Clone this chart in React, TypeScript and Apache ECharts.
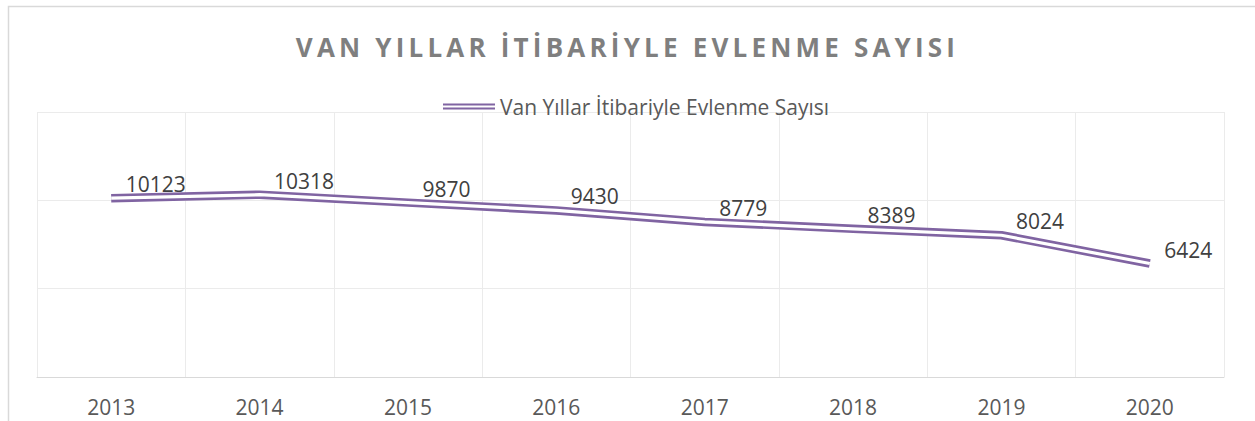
import React, { useEffect, useRef } from "react";
import * as echarts from "echarts";

const TITLE = "VAN YILLAR İTİBARİYLE EVLENME SAYISI";
const SERIES_NAME = "Van Yıllar İtibariyle Evlenme Sayısı";
const years = ["2013", "2014", "2015", "2016", "2017", "2018", "2019", "2020"];
const marriages = [10123, 10318, 9870, 9430, 8779, 8389, 8024, 6424];

const PURPLE = "#8064A2";
const FONT = "'Open Sans', sans-serif";

export default function App() {
  const ref = useRef<HTMLDivElement>(null);
  useEffect(() => {
    if (!ref.current) return;
    const chart = echarts.init(ref.current, undefined, { renderer: "svg" });
    chart.setOption({
      animation: false,
      backgroundColor: "#ffffff",
      title: {
        text: TITLE,
        left: "center",
        top: 29,
        textStyle: {
          fontFamily: FONT,
          fontSize: 26,
          fontWeight: "bold",
          color: "#7f7f7f",
        },
      },
      legend: {
        data: [
          {
            name: SERIES_NAME,
            icon: "path://M0,0H50V2H0Z M0,4H50V6H0Z",
          },
        ],
        top: 91,
        left: 438,
        itemWidth: 52,
        itemHeight: 7,
        textStyle: { fontFamily: FONT, fontSize: 21, color: "#595959" },
        itemStyle: { color: PURPLE },
      },
      graphic: [
        {
          type: "rect",
          shape: { x: 8.5, y: 6.5, width: 1400, height: 600 },
          style: { fill: "none", stroke: "#d9d9d9", lineWidth: 1.5 },
          silent: true,
        },
      ],
      grid: { left: 37, right: 31, top: 112, bottom: 44 },
      xAxis: {
        type: "category",
        data: years,
        boundaryGap: true,
        axisLine: { show: true, lineStyle: { color: "#d9d9d9", width: 1 } },
        axisTick: { show: false },
        splitLine: { show: true, lineStyle: { color: "#ebebeb", width: 1 } },
        axisLabel: { fontFamily: FONT, fontSize: 21, color: "#595959", margin: 19 },
      },
      yAxis: {
        type: "value",
        min: 0,
        max: 15000,
        interval: 5000,
        axisLine: { show: false },
        axisTick: { show: false },
        axisLabel: { show: false },
        splitLine: { show: true, lineStyle: { color: "#ebebeb", width: 1 } },
      },
      series: [
        {
          name: SERIES_NAME,
          type: "line",
          data: marriages,
          symbol: "none",
          lineStyle: { color: PURPLE, width: 8.5, cap: "butt", join: "round" },
          itemStyle: { color: PURPLE },
          z: 2,
        },
        {
          name: "inner",
          type: "line",
          data: marriages,
          symbol: "circle",
          symbolSize: 1,
          showSymbol: true,
          lineStyle: { color: "#ffffff", width: 3.2, cap: "butt", join: "round" },
          itemStyle: { color: "rgba(255,255,255,0)" },
          z: 3,
          label: {
            show: true,
            position: "right",
            distance: 14,
            offset: [0, -14],
            fontFamily: FONT,
            fontSize: 21,
            color: "#404040",
          },
        },
      ],
    });
    const spaceTitle = () => {
      const dom = ref.current;
      if (!dom) return;
      dom.querySelectorAll("text").forEach((t) => {
        if (t.textContent === TITLE) {
          t.setAttribute("letter-spacing", "4.2");
        }
      });
    };
    spaceTitle();
    chart.on("finished", spaceTitle);
    const tid = setTimeout(spaceTitle, 50);
    return () => {
      clearTimeout(tid);
      chart.dispose();
    };
  }, []);
  return (
    <div
      ref={ref}
      style={{ position: "absolute", left: 0, top: 0, width: 1255, height: 421 }}
    />
  );
}
